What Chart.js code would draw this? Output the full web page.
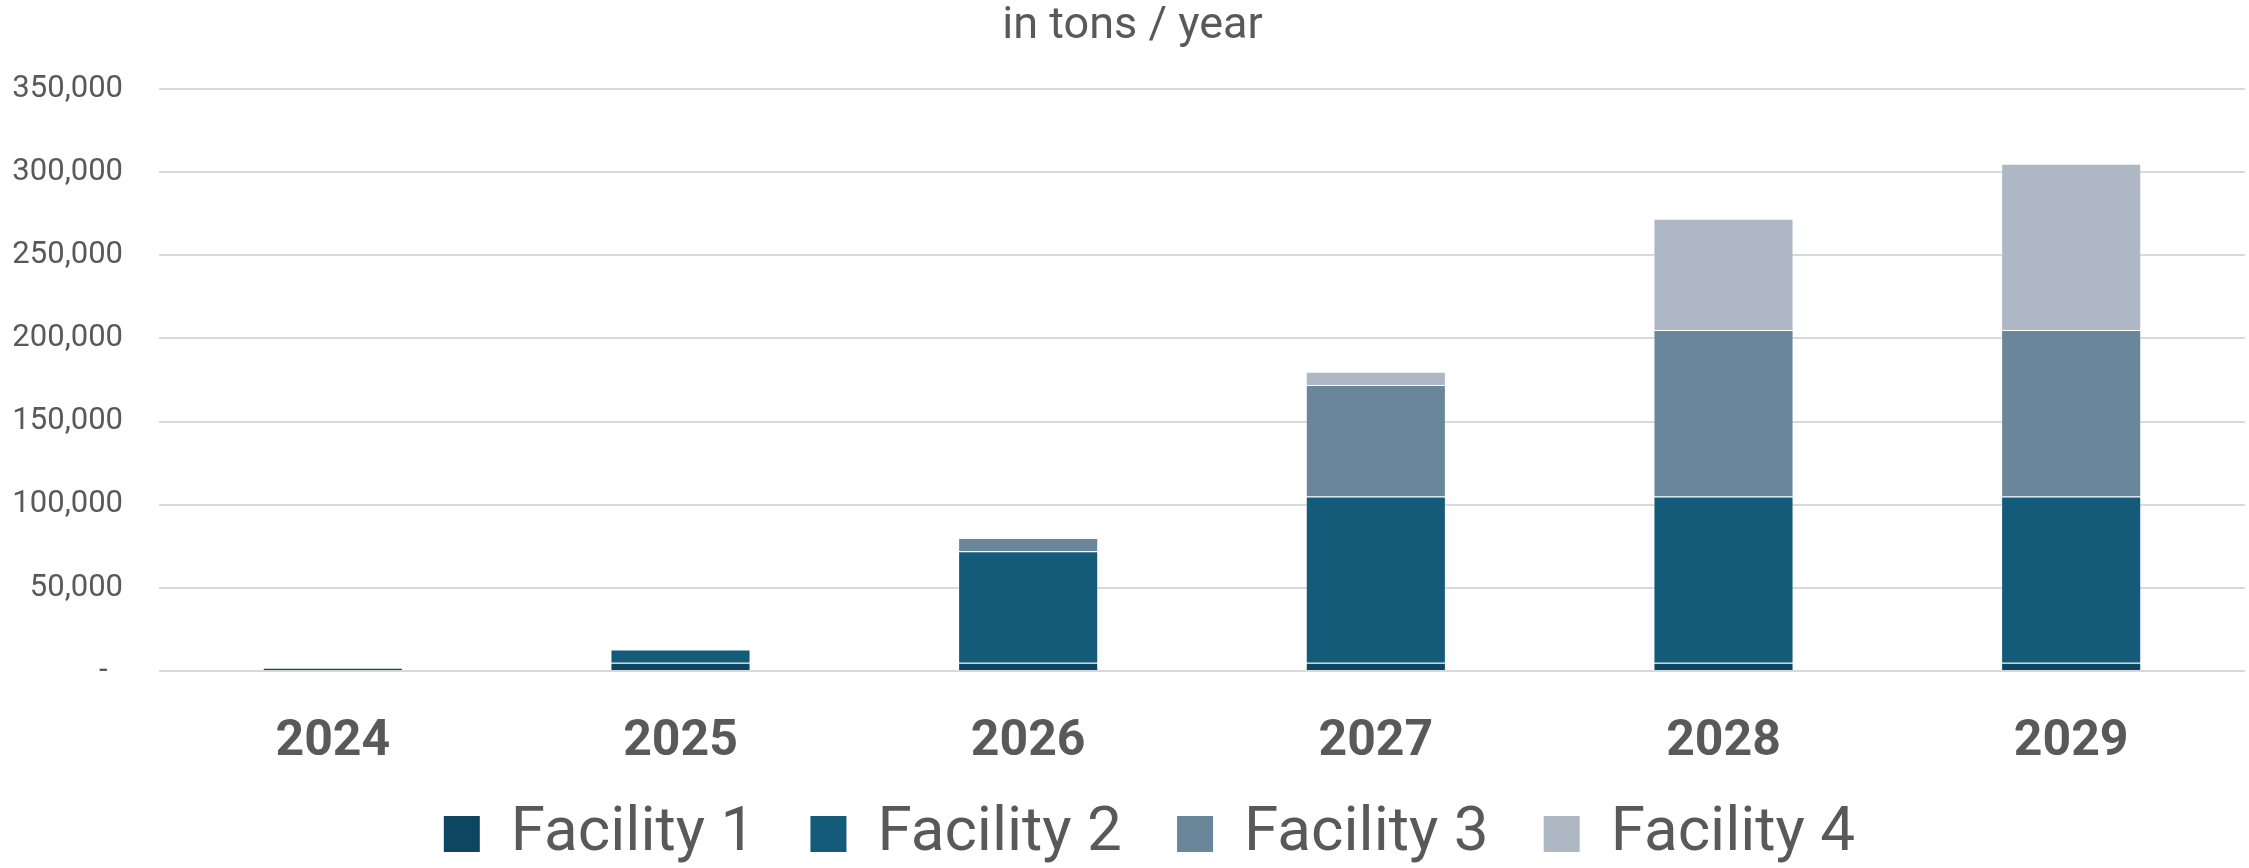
<!DOCTYPE html>
<html>
<head>
<meta charset="utf-8">
<script src="https://cdn.jsdelivr.net/npm/chart.js@4"></script>
<style>
  html, body { margin: 0; padding: 0; background: #fff; }
  #wrap { width: 2249px; height: 868px; position: relative; }
</style>
</head>
<body>
<div id="wrap"><canvas id="capacity"></canvas></div>
<script>
const years = ['2024', '2025', '2026', '2027', '2028', '2029'];
const facility1 = [2000, 5000, 5000, 5000, 5000, 5000];
const facility2 = [null, 8000, 67000, 100000, 100000, 100000];
const facility3 = [null, null, 8000, 67000, 100000, 100000];
const facility4 = [null, null, null, 8000, 67000, 100000];
const seriesNames = ['Facility 1', 'Facility 2', 'Facility 3', 'Facility 4'];
const colors = ['#0e4661', '#145a79', '#6a869b', '#aeb8c4'];

const textColor = '#595959';

function makeSet(i, values) {
  return {
    label: seriesNames[i],
    data: values,
    backgroundColor: colors[i],
    borderColor: 'rgba(255,255,255,0.25)',
    borderWidth: 1,
    categoryPercentage: 1,
    barPercentage: 0.403,
  };
}

// nudge title and legend sideways, Excel centres them a bit right of the canvas middle
const nudge = {
  id: 'nudge',
  afterLayout(chart) {
    const lg = chart.legend;
    lg.left += 27; lg.right += 27;
    const tt = chart.titleBlock;
    if (tt) { tt.left += 10; tt.right += 10; }
  }
};

new Chart(document.getElementById('capacity'), {
  type: 'bar',
  data: {
    labels: years,
    datasets: [
      makeSet(0, facility1),
      makeSet(1, facility2),
      makeSet(2, facility3),
      makeSet(3, facility4),
    ]
  },
  plugins: [nudge],
  options: {
    responsive: true,
    maintainAspectRatio: false,
    devicePixelRatio: 1,
    animation: false,
    layout: { padding: { left: 0, right: 4, top: 0, bottom: -7 } },
    plugins: {
      title: {
        display: true,
        text: 'in tons / year',
        color: textColor,
        font: { family: 'Roboto', size: 45, weight: 'normal' },
        padding: { top: 0, bottom: 35 },
      },
      legend: {
        position: 'bottom',
        labels: {
          color: textColor,
          font: { family: 'Roboto', size: 62 },
          boxWidth: 36,
          boxHeight: 36,
          padding: 9,
          // trailing spaces widen the gap between entries without adding height
          generateLabels(chart) {
            const sets = chart.data.datasets;
            return sets.map((ds, i) => ({
              text: ds.label + (i < sets.length - 1 ? '   ' : ''),
              fillStyle: ds.backgroundColor,
              strokeStyle: ds.backgroundColor,
              lineWidth: 0,
              fontColor: textColor,
              hidden: false,
              datasetIndex: i,
            }));
          }
        }
      },
      tooltip: { enabled: false }
    },
    scales: {
      x: {
        stacked: true,
        grid: { display: false, drawTicks: false },
        border: { display: false },
        ticks: {
          color: textColor,
          font: { family: 'Roboto', size: 50, weight: 'bold' },
          padding: 41,
        },
        afterFit(scale) { scale.height = 123; }
      },
      y: {
        stacked: true,
        min: 0,
        max: 350000,
        grid: { color: '#d9d9d9', lineWidth: 2, drawTicks: false },
        border: { display: false },
        ticks: {
          stepSize: 50000,
          color: textColor,
          font: { family: 'Roboto', size: 31 },
          padding: 36,
          callback: (v) => v === 0 ? '-  ' : v.toLocaleString('en-US'),
        },
        afterFit(scale) { scale.width = 159; }
      }
    }
  }
});
</script>
</body>
</html>
